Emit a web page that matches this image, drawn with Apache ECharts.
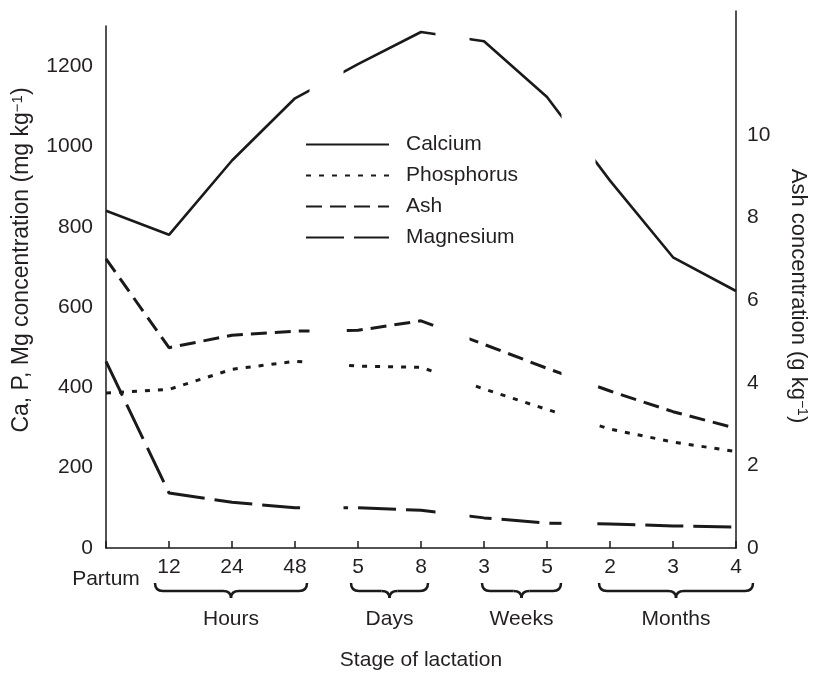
<!DOCTYPE html>
<html><head><meta charset="utf-8">
<script src="https://cdn.jsdelivr.net/npm/echarts@6/dist/echarts.min.js"></script>
<style>html,body{margin:0;padding:0;background:#fff}#c{width:814px;height:674px}</style>
</head><body><div id="c"></div>
<script>
// ---- data ----
const categories = ['Partum', '12', '24', '48', '5', '8', '3', '5', '2', '3', '4'];
const calcium    = [840, 780, 965, 1120, 1205, 1285, 1262, 1123, 915, 724, 640];
const phosphorus = [386, 395, 445, 465, 453, 450, 396, 345, 296, 264, 240];
const ash        = [7.0, 4.85, 5.15, 5.25, 5.27, 5.5, 4.93, 4.35, 3.8, 3.3, 2.9];
const magnesium  = [465, 137, 114, 100, 100, 94, 75, 62, 60, 55, 52];
const leftTicks  = [0, 200, 400, 600, 800, 1000, 1200];
const rightTicks = [0, 2, 4, 6, 8, 10];
const groupNames = ['Hours', 'Days', 'Weeks', 'Months'];
const groupSpans = [[1, 3], [4, 5], [6, 7], [8, 10]];

// ---- style / layout ----
const FONT = '"Liberation Sans", Arial, Helvetica, sans-serif';
const INK = '#1a1a1a';
const TEXT = '#231f20';
const FS = 21;
const GAP_HALF = 17;
const BRACE_PAD = [[14, 12], [7, 7], [2, 14], [11, 17]];

const axisLine = { lineStyle: { color: INK, width: 1.5 } };
const tick = { inside: true, length: 8, lineStyle: { color: INK, width: 1.5 } };
const plain = v => String(v);

const option = {
  backgroundColor: '#fff',
  animation: false,
  textStyle: { fontFamily: FONT },
  grid: [
    { left: 106, right: 78, top: 26, bottom: 126, outerBoundsMode: 'none', containLabel: false },
    { left: 106, right: 78, top: 11, bottom: 126, outerBoundsMode: 'none', containLabel: false }
  ],
  legend: {
    data: ['Calcium', 'Phosphorus', 'Ash', 'Magnesium'],
    orient: 'vertical', left: 300, top: 129, z: 200, zlevel: 2,
    itemWidth: 83, itemHeight: 14, itemGap: 10,
    itemStyle: { color: 'rgba(0,0,0,0)', borderColor: 'rgba(0,0,0,0)', borderWidth: 0, opacity: 0 },
    textStyle: { fontSize: FS, color: TEXT, fontFamily: FONT, lineHeight: 21, padding: [0, 0, 0, 12] }
  },
  xAxis: [
    {
      type: 'category', gridIndex: 0, data: categories, boundaryGap: false,
      axisLine: axisLine,
      axisTick: { inside: true, length: 7, interval: 0, lineStyle: { color: INK, width: 1.5 } },
      axisLabel: {
        interval: 0, fontSize: FS, color: TEXT, fontFamily: FONT, margin: 9,
        formatter: (v, i) => i === 0 ? '{p|' + v + '}' : v,
        rich: { p: { fontSize: FS, lineHeight: 45, color: TEXT, fontFamily: FONT } }
      },
      name: 'Stage of lactation', nameLocation: 'middle', nameGap: 102,
      nameTextStyle: { fontSize: FS, color: TEXT, fontFamily: FONT }
    },
    { type: 'category', gridIndex: 1, data: categories, boundaryGap: false, show: false }
  ],
  yAxis: [
    {
      type: 'value', gridIndex: 0, position: 'left', min: 0, max: 1300, interval: 100,
      splitLine: { show: false },
      axisLine: Object.assign({ show: true }, axisLine),
      axisTick: Object.assign({ customValues: leftTicks }, tick),
      axisLabel: { customValues: leftTicks, formatter: plain, fontSize: FS, color: TEXT, fontFamily: FONT, margin: 13 },
      name: 'Ca, P, Mg concentration (mg kg{sup|−1})',
      nameLocation: 'middle', nameGap: 73,
      nameTextStyle: {
        fontSize: 23, color: TEXT, fontFamily: FONT, padding: [0, 0, 0, 54],
        rich: { sup: { fontSize: 15, verticalAlign: 'top', color: TEXT, fontFamily: FONT } }
      }
    },
    {
      type: 'value', gridIndex: 1, position: 'right', min: 0, max: 13, interval: 1,
      splitLine: { show: false },
      axisLine: Object.assign({ show: true }, axisLine),
      axisTick: Object.assign({ customValues: rightTicks }, tick),
      axisLabel: { customValues: rightTicks, formatter: plain, fontSize: FS, color: TEXT, fontFamily: FONT, margin: 11 },
      name: 'Ash concentration (g kg{sup|−1})',
      nameLocation: 'middle', nameGap: 51, nameRotate: -90,
      nameTextStyle: {
        fontSize: 22, color: TEXT, fontFamily: FONT, padding: [0, 0, 0, 33],
        rich: { sup: { fontSize: 14, verticalAlign: 'top', color: TEXT, fontFamily: FONT } }
      }
    }
  ],
  series: [
    { name: 'Calcium', type: 'line', xAxisIndex: 0, yAxisIndex: 0, data: calcium,
      symbol: 'none', lineStyle: { color: INK, width: 2.6, type: 'solid' }, itemStyle: { color: INK } },
    { name: 'Phosphorus', type: 'line', xAxisIndex: 0, yAxisIndex: 0, data: phosphorus,
      symbol: 'none', lineStyle: { color: INK, width: 3, type: [5, 8] }, itemStyle: { color: INK } },
    { name: 'Ash', type: 'line', xAxisIndex: 1, yAxisIndex: 1, data: ash,
      symbol: 'none', lineStyle: { color: INK, width: 3, type: [16, 8] }, itemStyle: { color: INK } },
    { name: 'Magnesium', type: 'line', xAxisIndex: 0, yAxisIndex: 0, data: magnesium,
      symbol: 'none', lineStyle: { color: INK, width: 3, type: [38, 10] }, itemStyle: { color: INK } }
  ]
};

const chart = echarts.init(document.getElementById('c'), null, { renderer: 'canvas' });
chart.setOption(option);

// breaks between time scales and group braces, positioned from the axes
const px = i => chart.convertToPixel({ xAxisIndex: 0 }, i);
const yTop = chart.convertToPixel({ yAxisIndex: 0 }, 1300);
const yBase = chart.convertToPixel({ yAxisIndex: 0 }, 0);
const gfx = [];
for (let g = 0; g < groupSpans.length - 1; g++) {
  const mid = (px(groupSpans[g][1]) + px(groupSpans[g + 1][0])) / 2;
  gfx.push({ type: 'rect', z: 100, zlevel: 1, silent: true,
    shape: { x: mid - GAP_HALF, y: yTop, width: 2 * GAP_HALF, height: yBase - yTop - 3 },
    style: { fill: '#ffffff', stroke: null } });
}
const BY0 = yBase + 35, BY1 = yBase + 43, BY2 = yBase + 50, LY = yBase + 71;
const bStyle = { stroke: INK, fill: null, lineWidth: 2.5 };
groupSpans.forEach((s, i) => {
  const x1 = px(s[0]) - BRACE_PAD[i][0], x2 = px(s[1]) + BRACE_PAD[i][1], xm = (x1 + x2) / 2;
  const parts = [
    { type: 'bezierCurve', shape: { x1: x1, y1: BY0, cpx1: x1, cpy1: BY1, x2: x1 + 8, y2: BY1 } },
    { type: 'line', shape: { x1: x1 + 8, y1: BY1, x2: xm - 8, y2: BY1 } },
    { type: 'bezierCurve', shape: { x1: xm - 8, y1: BY1, cpx1: xm, cpy1: BY1, x2: xm, y2: BY2 } },
    { type: 'bezierCurve', shape: { x1: xm, y1: BY2, cpx1: xm, cpy1: BY1, x2: xm + 8, y2: BY1 } },
    { type: 'line', shape: { x1: xm + 8, y1: BY1, x2: x2 - 8, y2: BY1 } },
    { type: 'bezierCurve', shape: { x1: x2 - 8, y1: BY1, cpx1: x2, cpy1: BY1, x2: x2, y2: BY0 } }
  ];
  parts.forEach(p => { p.z = 3; p.silent = true; p.style = Object.assign({}, bStyle); gfx.push(p); });
  gfx.push({ type: 'text', z: 3, silent: true,
    style: { text: groupNames[i], x: xm, y: LY, align: 'center', verticalAlign: 'middle',
             fontSize: FS, fontFamily: FONT, fill: TEXT } });
});
chart.setOption({ graphic: { elements: gfx } });
</script>
</body></html>
